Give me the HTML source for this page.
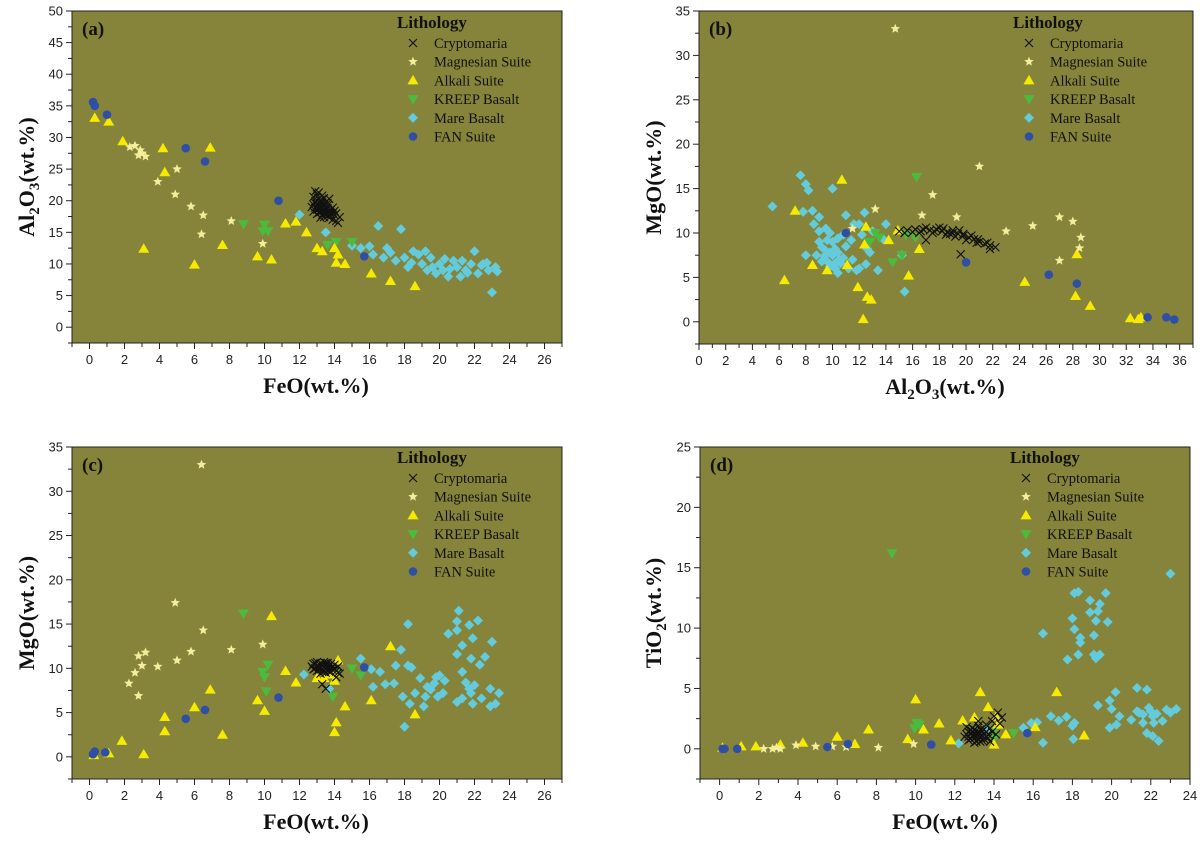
<!DOCTYPE html>
<html><head><meta charset="utf-8">
<style>
html,body{margin:0;padding:0;background:#fff;}
svg{display:block;font-family:"Liberation Serif",serif;}
.tick{font-family:"Liberation Sans",sans-serif;font-size:13px;fill:#222;}
.ttl{font-weight:bold;font-size:22px;fill:#111;}
</style></head>
<body>
<svg id="fig" width="1200" height="842" viewBox="0 0 1200 842" xmlns="http://www.w3.org/2000/svg"></svg>
<script>
// ---------- data (panel a: FeO vs Al2O3) ----------
const a_crypto=[[12.9,21.5],[13.0,21.0],[12.8,20.6],[13.1,20.3],[12.9,19.9],[13.2,19.6],[13.0,19.3],[13.3,19.0],[13.1,18.7],[13.4,18.5],[13.2,18.2],[13.5,18.0],[13.3,17.8],[13.6,17.6],[13.4,17.4],[13.7,17.3],[13.9,17.0],[14.1,16.8],[14.2,16.5],[13.5,19.8],[13.6,19.2],[13.8,18.6],[13.9,18.1],[14.0,17.7],[12.7,19.0],[12.8,18.3],[13.0,17.9],[13.2,17.3],[13.7,20.3],[13.3,20.8],[13.1,21.3],[14.3,17.4],[14.1,18.0],[13.4,19.4],[13.0,18.6],[12.9,19.6],[13.6,18.8],[13.8,17.9],[13.2,20.1],[13.4,20.4],[13.5,19.0],[13.3,18.4],[13.7,18.2],[13.1,19.0],[12.9,18.9],[13.6,19.6],[13.9,18.9],[13.4,17.9],[13.2,18.9],[13.5,18.6],[13.0,20.6],[13.3,19.7],[13.7,17.8],[14.0,18.4],[12.8,19.4],[13.1,18.1]];
const a_mag=[[2.3,28.5],[2.6,28.7],[2.8,27.2],[2.9,28.0],[3.0,27.5],[3.2,27.0],[3.9,23.0],[5.0,25.0],[4.9,21.0],[5.8,19.1],[6.5,17.7],[6.4,14.7],[8.1,16.8],[9.9,13.2]];
const a_alk=[[0.3,33.1],[1.1,32.5],[1.9,29.4],[4.2,28.3],[4.3,24.5],[6.9,28.4],[3.1,12.4],[6.0,9.9],[7.6,13.0],[9.6,11.2],[10.4,10.7],[11.2,16.4],[11.8,16.7],[12.4,15.0],[13.0,12.5],[13.3,12.0],[14.0,12.5],[14.1,10.2],[14.6,10.0],[16.1,8.5],[17.2,7.3],[18.6,6.5],[14.2,11.5]];
const a_kreep=[[8.8,16.3],[10.0,16.2],[9.9,15.2],[10.2,15.2],[15.0,13.5],[14.1,13.5],[13.6,13.0]];
const a_mare=[[12.0,17.8],[13.5,15.0],[15.5,12.5],[16.0,12.8],[16.5,16.0],[17.0,12.5],[17.8,15.5],[18.0,11.0],[18.2,9.5],[18.5,12.0],[19.0,10.0],[19.3,9.0],[19.5,11.0],[19.8,8.5],[20.0,10.0],[20.2,9.0],[20.5,8.0],[20.8,10.5],[21.0,9.5],[21.2,8.0],[21.5,9.0],[21.8,10.0],[22.0,12.0],[22.2,8.5],[22.5,10.0],[22.8,9.0],[23.0,5.5],[23.2,9.5],[16.8,11.0],[17.5,10.5],[18.8,11.5],[19.2,12.0],[20.3,10.8],[21.3,10.5],[22.7,10.2],[19.6,9.5],[20.6,9.2],[21.6,8.6],[22.4,9.8],[23.3,8.8],[18.4,10.2],[17.2,11.8],[16.2,11.5],[15.0,12.9]];
const a_fan=[[0.2,35.6],[0.3,35.0],[1.0,33.6],[5.5,28.3],[6.6,26.2],[10.8,20.0],[15.7,11.2]];
// ---------- panel b: Al2O3 vs MgO ----------
const b_crypto=[[15.0,10.2],[15.6,10.3],[16.2,10.4],[16.8,10.4],[17.3,10.3],[17.8,10.4],[18.2,10.2],[18.6,10.1],[19.0,10.0],[19.4,9.9],[19.8,9.7],[20.2,9.5],[20.6,9.3],[21.0,9.0],[21.4,8.8],[21.8,8.6],[22.2,8.4],[19.6,7.6],[21.8,8.2],[16.5,10.0],[17.5,10.0],[18.5,9.8],[19.2,9.6],[20.0,9.2],[20.8,8.9],[17.0,9.2],[18.0,10.6],[19.5,10.3],[16.0,10.1],[17.0,10.6],[18.3,10.5],[18.8,9.9],[19.8,9.9],[20.4,9.7],[17.6,10.2],[16.6,10.2],[15.4,10.0],[19.0,10.3],[20.9,9.3],[21.6,8.9]];
const b_mag=[[14.7,33.0],[21.0,17.5],[17.5,14.3],[13.2,12.7],[16.7,12.0],[19.3,11.8],[25.0,10.8],[27.0,11.8],[28.0,11.3],[28.6,9.5],[28.5,8.3],[27.0,6.9],[23.0,10.2],[11.5,10.5]];
const b_alk=[[6.4,4.7],[7.2,12.5],[8.5,6.4],[9.6,5.8],[10.7,16.0],[11.1,6.4],[11.9,3.9],[12.3,0.3],[12.6,2.8],[12.9,2.5],[15.7,5.2],[14.2,9.2],[16.5,8.2],[14.9,10.3],[24.4,4.5],[28.2,2.9],[29.3,1.8],[32.3,0.4],[32.9,0.3],[33.1,0.5],[28.3,7.6],[12.4,8.7],[12.5,10.7]];
const b_kreep=[[16.3,16.3],[14.5,6.7],[15.2,7.5],[16.2,9.5],[13.5,9.5],[13.2,10.0],[15.5,9.8],[12.8,9.0]];
const b_mare=[[5.5,13.0],[7.6,16.5],[8.0,15.5],[8.2,14.8],[8.5,12.5],[9.0,11.8],[9.5,10.5],[9.0,9.0],[9.5,8.0],[10.0,7.5],[10.2,6.0],[10.5,7.0],[11.0,8.5],[11.5,7.0],[12.0,6.0],[12.5,6.5],[13.4,5.8],[15.4,3.4],[15.2,7.5],[12.8,7.8],[10.0,15.0],[11.0,12.0],[12.0,11.0],[12.2,9.8],[13.0,10.2],[14.0,11.0],[9.8,10.0],[8.8,7.5],[9.2,6.8],[10.4,5.5],[11.2,6.0],[11.8,5.8],[9.6,9.2],[10.8,9.8],[8.0,7.5],[10.2,8.2],[9.4,7.4],[11.4,9.2],[12.6,8.2],[10.6,6.6],[9.8,6.2],[13.8,9.3],[7.8,12.4],[11.6,11.0],[12.4,12.3],[9.2,8.4],[10.0,9.0],[10.4,7.8],[9.0,10.2],[8.6,11.0],[9.6,6.8],[10.2,6.6],[10.8,7.2],[9.8,7.8],[10.4,9.4]];
const b_fan=[[11.0,10.0],[20.0,6.7],[26.2,5.3],[28.3,4.3],[33.6,0.5],[35.0,0.5],[35.6,0.25]];
// ---------- panel c: FeO vs MgO ----------
const c_crypto=[[12.8,10.5],[13.0,10.7],[13.2,10.6],[13.4,10.7],[13.6,10.6],[13.8,10.5],[14.0,10.4],[14.2,10.2],[12.9,10.0],[13.1,9.8],[13.3,9.6],[13.5,9.5],[13.7,9.6],[13.9,9.8],[14.1,9.7],[13.0,10.3],[13.4,10.1],[13.8,10.0],[13.2,9.4],[13.6,10.2],[12.7,10.2],[14.3,9.4],[13.5,7.7],[14.1,9.0],[14.2,9.5],[13.3,8.2],[12.9,10.6],[13.1,10.2],[13.3,10.4],[13.5,10.3],[13.7,10.3],[13.9,10.2],[13.2,10.0],[13.6,9.9],[13.0,9.7],[13.4,9.8],[13.8,9.6],[14.0,9.9],[12.8,9.9],[13.5,10.6]];
const c_mag=[[6.4,33.0],[4.9,17.4],[6.5,14.3],[2.8,11.4],[3.2,11.8],[3.0,10.3],[2.6,9.5],[2.25,8.3],[2.8,6.9],[3.9,10.2],[5.0,10.9],[5.8,11.9],[8.1,12.1],[9.9,12.7]];
const c_alk=[[10.4,15.9],[1.85,1.8],[3.1,0.3],[4.3,4.5],[4.3,2.9],[6.0,5.6],[6.9,7.6],[7.6,2.5],[9.6,6.4],[10.0,5.2],[11.2,9.7],[11.8,8.4],[14.2,10.9],[14.0,8.6],[14.6,5.7],[14.1,3.9],[14.0,2.8],[16.1,6.4],[17.2,12.5],[18.6,4.8],[0.25,0.2],[1.1,0.4],[13.0,8.9],[13.4,8.9],[13.7,9.3],[14.0,9.5]];
const c_kreep=[[8.8,16.2],[10.2,10.4],[9.9,9.6],[10.0,9.0],[10.1,7.4],[13.9,6.8],[14.0,9.5],[15.0,10.0],[15.5,9.2]];
const c_mare=[[12.25,9.3],[13.7,7.7],[15.5,11.1],[16.1,9.9],[16.6,9.6],[16.2,7.9],[16.9,8.2],[17.4,8.3],[17.8,12.1],[18.2,15.0],[17.5,10.3],[18.2,10.3],[18.4,10.1],[18.9,8.9],[17.9,6.8],[18.3,6.0],[18.0,3.4],[19.1,5.7],[19.3,7.9],[19.7,8.3],[20.0,9.2],[20.2,7.2],[19.9,6.8],[20.5,13.9],[21.0,15.3],[21.1,16.5],[21.0,14.3],[21.7,14.9],[21.3,12.6],[21.0,11.6],[21.8,11.1],[22.2,15.4],[21.9,13.4],[23.0,13.0],[22.6,11.3],[22.3,10.4],[21.3,9.6],[21.3,6.6],[21.8,7.2],[21.9,6.0],[22.9,7.7],[23.4,7.2],[22.9,5.7],[23.2,6.0],[21.0,6.2],[22.0,8.1],[21.7,7.7],[19.5,7.6],[18.6,7.2],[19.2,6.8],[19.8,9.0],[20.3,8.6],[21.5,8.4],[22.4,6.6]];
const c_fan=[[0.2,0.3],[0.3,0.6],[0.9,0.5],[5.5,4.3],[6.6,5.3],[10.8,6.7],[15.7,10.1]];
// ---------- panel d: FeO vs TiO2 ----------
const d_crypto=[[12.5,1.0],[12.7,1.4],[12.8,0.8],[12.9,1.7],[13.0,1.2],[13.1,0.6],[13.2,1.9],[13.3,1.0],[13.4,1.5],[13.5,0.8],[13.6,2.0],[13.7,1.2],[13.8,1.7],[13.9,2.3],[14.0,2.7],[14.2,3.0],[13.0,0.5],[13.2,2.3],[12.6,1.8],[13.8,0.6],[14.1,1.2],[14.4,2.6],[12.9,1.1],[13.3,1.3],[13.6,1.0],[13.1,1.5],[13.5,1.6],[12.8,1.3],[14.3,2.1],[12.7,1.0],[12.9,1.4],[13.1,1.0],[13.3,1.6],[13.5,1.2],[13.7,0.9],[13.0,1.6],[13.2,0.8],[13.4,1.1],[12.6,1.2],[13.6,1.4],[13.0,0.9],[13.2,1.3],[12.8,1.6],[13.4,0.7],[13.9,1.4],[13.1,1.2],[12.7,0.7],[13.3,0.6]];
const d_mag=[[2.25,0.0],[2.7,0.0],[3.1,0.0],[3.9,0.3],[4.9,0.2],[5.75,0.2],[6.45,0.15],[8.1,0.1],[9.9,0.4],[2.9,0.1]];
const d_alk=[[0.15,0.1],[1.1,0.2],[1.85,0.2],[3.1,0.35],[4.25,0.5],[6.0,1.0],[6.9,0.4],[7.6,1.6],[9.6,0.8],[10.0,4.1],[10.4,1.6],[11.2,2.1],[11.8,0.7],[12.4,2.35],[13.0,2.6],[13.3,4.7],[13.7,3.45],[14.1,2.65],[14.2,2.0],[14.0,0.35],[14.6,1.2],[16.1,1.8],[17.2,4.7],[18.6,1.1]];
const d_kreep=[[8.8,16.2],[9.95,1.7],[10.05,2.15],[10.2,2.0],[14.0,1.5],[14.0,0.9],[15.0,1.3]];
const d_mare=[[23.0,14.5],[16.5,9.55],[18.1,12.9],[18.3,13.0],[18.9,11.3],[19.7,12.9],[19.4,12.0],[19.3,11.4],[19.2,10.6],[19.8,10.5],[18.9,12.3],[18.0,10.8],[18.1,9.9],[18.4,8.8],[18.4,9.2],[18.3,7.8],[17.75,7.4],[19.1,9.4],[19.1,7.8],[19.4,7.8],[19.2,7.5],[19.9,4.0],[20.2,4.7],[19.3,3.6],[21.3,5.05],[21.8,4.9],[20.4,2.7],[16.9,2.7],[17.3,2.35],[17.7,2.65],[18.1,2.15],[18.0,1.9],[15.9,2.15],[16.2,2.2],[15.5,1.75],[13.6,1.6],[12.2,0.45],[16.5,0.5],[18.05,0.8],[19.9,1.75],[20.25,2.0],[20.0,3.3],[21.4,3.0],[21.6,2.15],[21.8,1.3],[22.1,1.05],[22.4,0.65],[22.0,3.1],[22.1,2.7],[22.6,2.3],[22.8,3.25],[23.3,3.3],[21.0,2.4],[21.3,3.1],[21.6,2.85],[22.15,2.15],[21.9,3.4],[22.3,2.9],[23.0,3.0]];
const d_fan=[[0.15,0.0],[0.25,0.0],[0.9,0.0],[5.5,0.15],[6.55,0.4],[10.8,0.35],[15.7,1.3]];

const legendLabels=["Cryptomaria","Magnesian Suite","Alkali Suite","KREEP Basalt","Mare Basalt","FAN Suite"];
const xTicksFeO=[0,2,4,6,8,10,12,14,16,18,20,22,24,26];
const xTicksFeO24=[0,2,4,6,8,10,12,14,16,18,20,22,24];
const xTicksAl=[0,2,4,6,8,10,12,14,16,18,20,22,24,26,28,30,32,34,36];
const yTicks50=[0,5,10,15,20,25,30,35,40,45,50];
const yTicks35=[0,5,10,15,20,25,30,35];
const yTicks25=[0,5,10,15,20,25];

const NS="http://www.w3.org/2000/svg";
const svg=document.getElementById("fig");
function mk(tag,attrs,parent){const e=document.createElementNS(NS,tag);for(const k in attrs)e.setAttribute(k,attrs[k]);(parent||svg).appendChild(e);return e;}

const COL={crypto:"#111",mag:"#f4ee9a",alk:"#f5ea00",kreep:"#4cba3c",mare:"#63cbdc",fan:"#2f4fa6"};
function marker(kind,cx,cy,g){
  let e;
  if(kind==="crypto"){e=mk("path",{d:`M${cx-4},${cy-4}L${cx+4},${cy+4}M${cx-4},${cy+4}L${cx+4},${cy-4}`,stroke:COL.crypto,"stroke-width":1.1,fill:"none"},g);}
  else if(kind==="mag"){let p=[];for(let i=0;i<10;i++){const r=i%2?2.2:5;const a=-Math.PI/2+i*Math.PI/5;p.push((cx+r*Math.cos(a)).toFixed(1)+","+(cy+r*Math.sin(a)).toFixed(1));}e=mk("polygon",{points:p.join(" "),fill:COL.mag},g);}
  else if(kind==="alk"){e=mk("polygon",{points:`${cx},${cy-5.5} ${cx+5.5},${cy+4} ${cx-5.5},${cy+4}`,fill:COL.alk},g);}
  else if(kind==="kreep"){e=mk("polygon",{points:`${cx},${cy+5.5} ${cx+5.5},${cy-4} ${cx-5.5},${cy-4}`,fill:COL.kreep},g);}
  else if(kind==="mare"){e=mk("polygon",{points:`${cx},${cy-5} ${cx+5},${cy} ${cx},${cy+5} ${cx-5},${cy}`,fill:COL.mare},g);}
  else {e=mk("circle",{cx:cx,cy:cy,r:4.3,fill:COL.fan},g);}
  return e;
}

function panel(cfg){
  const g=mk("g",{});
  
  
  const X=v=>cfg.x0+(v-cfg.xmin)/(cfg.xmax-cfg.xmin)*(cfg.x1-cfg.x0);
  const Y=v=>cfg.y1-(v-cfg.ymin)/(cfg.ymax-cfg.ymin)*(cfg.y1-cfg.y0);
  const bg=mk("rect",{x:cfg.x0,y:cfg.y0,width:cfg.x1-cfg.x0,height:cfg.y1-cfg.y0,fill:"#85843a",stroke:"#222","stroke-width":1},g);
  
  
  const xa=mk("g",{},g);
  
  
  for(let v=Math.ceil(cfg.xmin);v<=cfg.xmax;v+=1){
    const major=cfg.xt.includes(v);
    mk("line",{x1:X(v),x2:X(v),y1:cfg.y1,y2:cfg.y1+(major?6:4),stroke:"#222","stroke-width":1},xa);
  }
  cfg.xt.forEach(v=>{const t=mk("text",{x:X(v),y:cfg.y1+21,"text-anchor":"middle",class:"tick"},xa);t.textContent=v;
    
    });
  const ya=mk("g",{},g);
  
  
  for(let v=cfg.ymin;v<=cfg.ymax+0.01;v+=2.5){
    const major=cfg.yt.includes(v);
    mk("line",{x1:cfg.x0-(major?6:4),x2:cfg.x0,y1:Y(v),y2:Y(v),stroke:"#222","stroke-width":1},ya);
  }
  cfg.yt.forEach(v=>{const t=mk("text",{x:cfg.x0-9,y:Y(v)+4.5,"text-anchor":"end",class:"tick"},ya);t.textContent=v;
    
    });
  const xt=mk("text",{x:cfg.xtx,y:cfg.y1+50,"text-anchor":"middle",class:"ttl"},g);
  xt.innerHTML=cfg.xtitle;
  
  
  const yc=(cfg.y0+cfg.y1)/2;
  const yt=mk("text",{x:cfg.ytx,y:yc,"text-anchor":"middle",class:"ttl",transform:`rotate(-90 ${cfg.ytx} ${yc})`},g);
  yt.innerHTML=cfg.ytitle;
  
  
  const pl=mk("text",{x:cfg.x0+10,y:cfg.y0+24,"font-size":"19","font-weight":"bold",fill:"#111"},g);
  pl.textContent=cfg.label;
  
  
  const kinds=["mare","kreep","alk","mag","fan","crypto"];
  const seriesNames={crypto:"cryptomaria",mag:"magnesian-suite",alk:"alkali-suite",kreep:"kreep-basalt",mare:"mare-basalt",fan:"fan-suite"};
  kinds.forEach(k=>{
    const sg=mk("g",{},g);
    
    
    cfg.data[k].forEach(p=>{
      const m=marker(k,X(p[0]),Y(p[1]),sg);
      
      
    });
  });
  const lg=mk("g",{},g);
  
  
  const lt=mk("text",{x:cfg.lx,y:cfg.ly,"font-size":"17","font-weight":"bold",fill:"#111"},lg);
  lt.textContent="Lithology";
  
  
  const lk=["crypto","mag","alk","kreep","mare","fan"];
  lk.forEach((k,i)=>{
    const cy=cfg.ly+15+i*18.7;
    const ent=mk("g",{},lg);
    
    
    marker(k,cfg.lx+16,cy,ent);
    const tx=mk("text",{x:cfg.lx+37,y:cy+5,"font-size":"14.5",fill:"#111"},ent);
    tx.textContent=legendLabels[i];
  });
}

panel({name:"panel-a-feo-al2o3",label:"(a)",x0:72,x1:562,xmin:-1,xmax:27,y0:11,y1:343,ymin:-2.5,ymax:50,xt:xTicksFeO,yt:yTicks50,
  xtitle:"FeO(wt.%)",ytitle:'Al<tspan font-size="15" dy="5">2</tspan><tspan dy="-5">O</tspan><tspan font-size="15" dy="5">3</tspan><tspan dy="-5">(wt.%)</tspan>',xtx:316,ytx:34,lx:397,ly:28,
  data:{crypto:a_crypto,mag:a_mag,alk:a_alk,kreep:a_kreep,mare:a_mare,fan:a_fan}});
panel({name:"panel-b-al2o3-mgo",label:"(b)",x0:699,x1:1193,xmin:0,xmax:37,y0:11,y1:344,ymin:-2.5,ymax:35,xt:xTicksAl,yt:yTicks35,
  xtitle:'Al<tspan font-size="15" dy="5">2</tspan><tspan dy="-5">O</tspan><tspan font-size="15" dy="5">3</tspan><tspan dy="-5">(wt.%)</tspan>',ytitle:"MgO(wt.%)",xtx:945,ytx:661,lx:1013,ly:28,
  data:{crypto:b_crypto,mag:b_mag,alk:b_alk,kreep:b_kreep,mare:b_mare,fan:b_fan}});
panel({name:"panel-c-feo-mgo",label:"(c)",x0:72,x1:562,xmin:-1,xmax:27,y0:447,y1:779,ymin:-2.5,ymax:35,xt:xTicksFeO,yt:yTicks35,
  xtitle:"FeO(wt.%)",ytitle:"MgO(wt.%)",xtx:316,ytx:34,lx:397,ly:463,
  data:{crypto:c_crypto,mag:c_mag,alk:c_alk,kreep:c_kreep,mare:c_mare,fan:c_fan}});
panel({name:"panel-d-feo-tio2",label:"(d)",x0:700,x1:1190,xmin:-1,xmax:24,y0:447,y1:779,ymin:-2.5,ymax:25,xt:xTicksFeO24,yt:yTicks25,
  xtitle:"FeO(wt.%)",ytitle:'TiO<tspan font-size="15" dy="5">2</tspan><tspan dy="-5">(wt.%)</tspan>',xtx:945,ytx:661,lx:1010,ly:463,
  data:{crypto:d_crypto,mag:d_mag,alk:d_alk,kreep:d_kreep,mare:d_mare,fan:d_fan}});
</script>
</body></html>
